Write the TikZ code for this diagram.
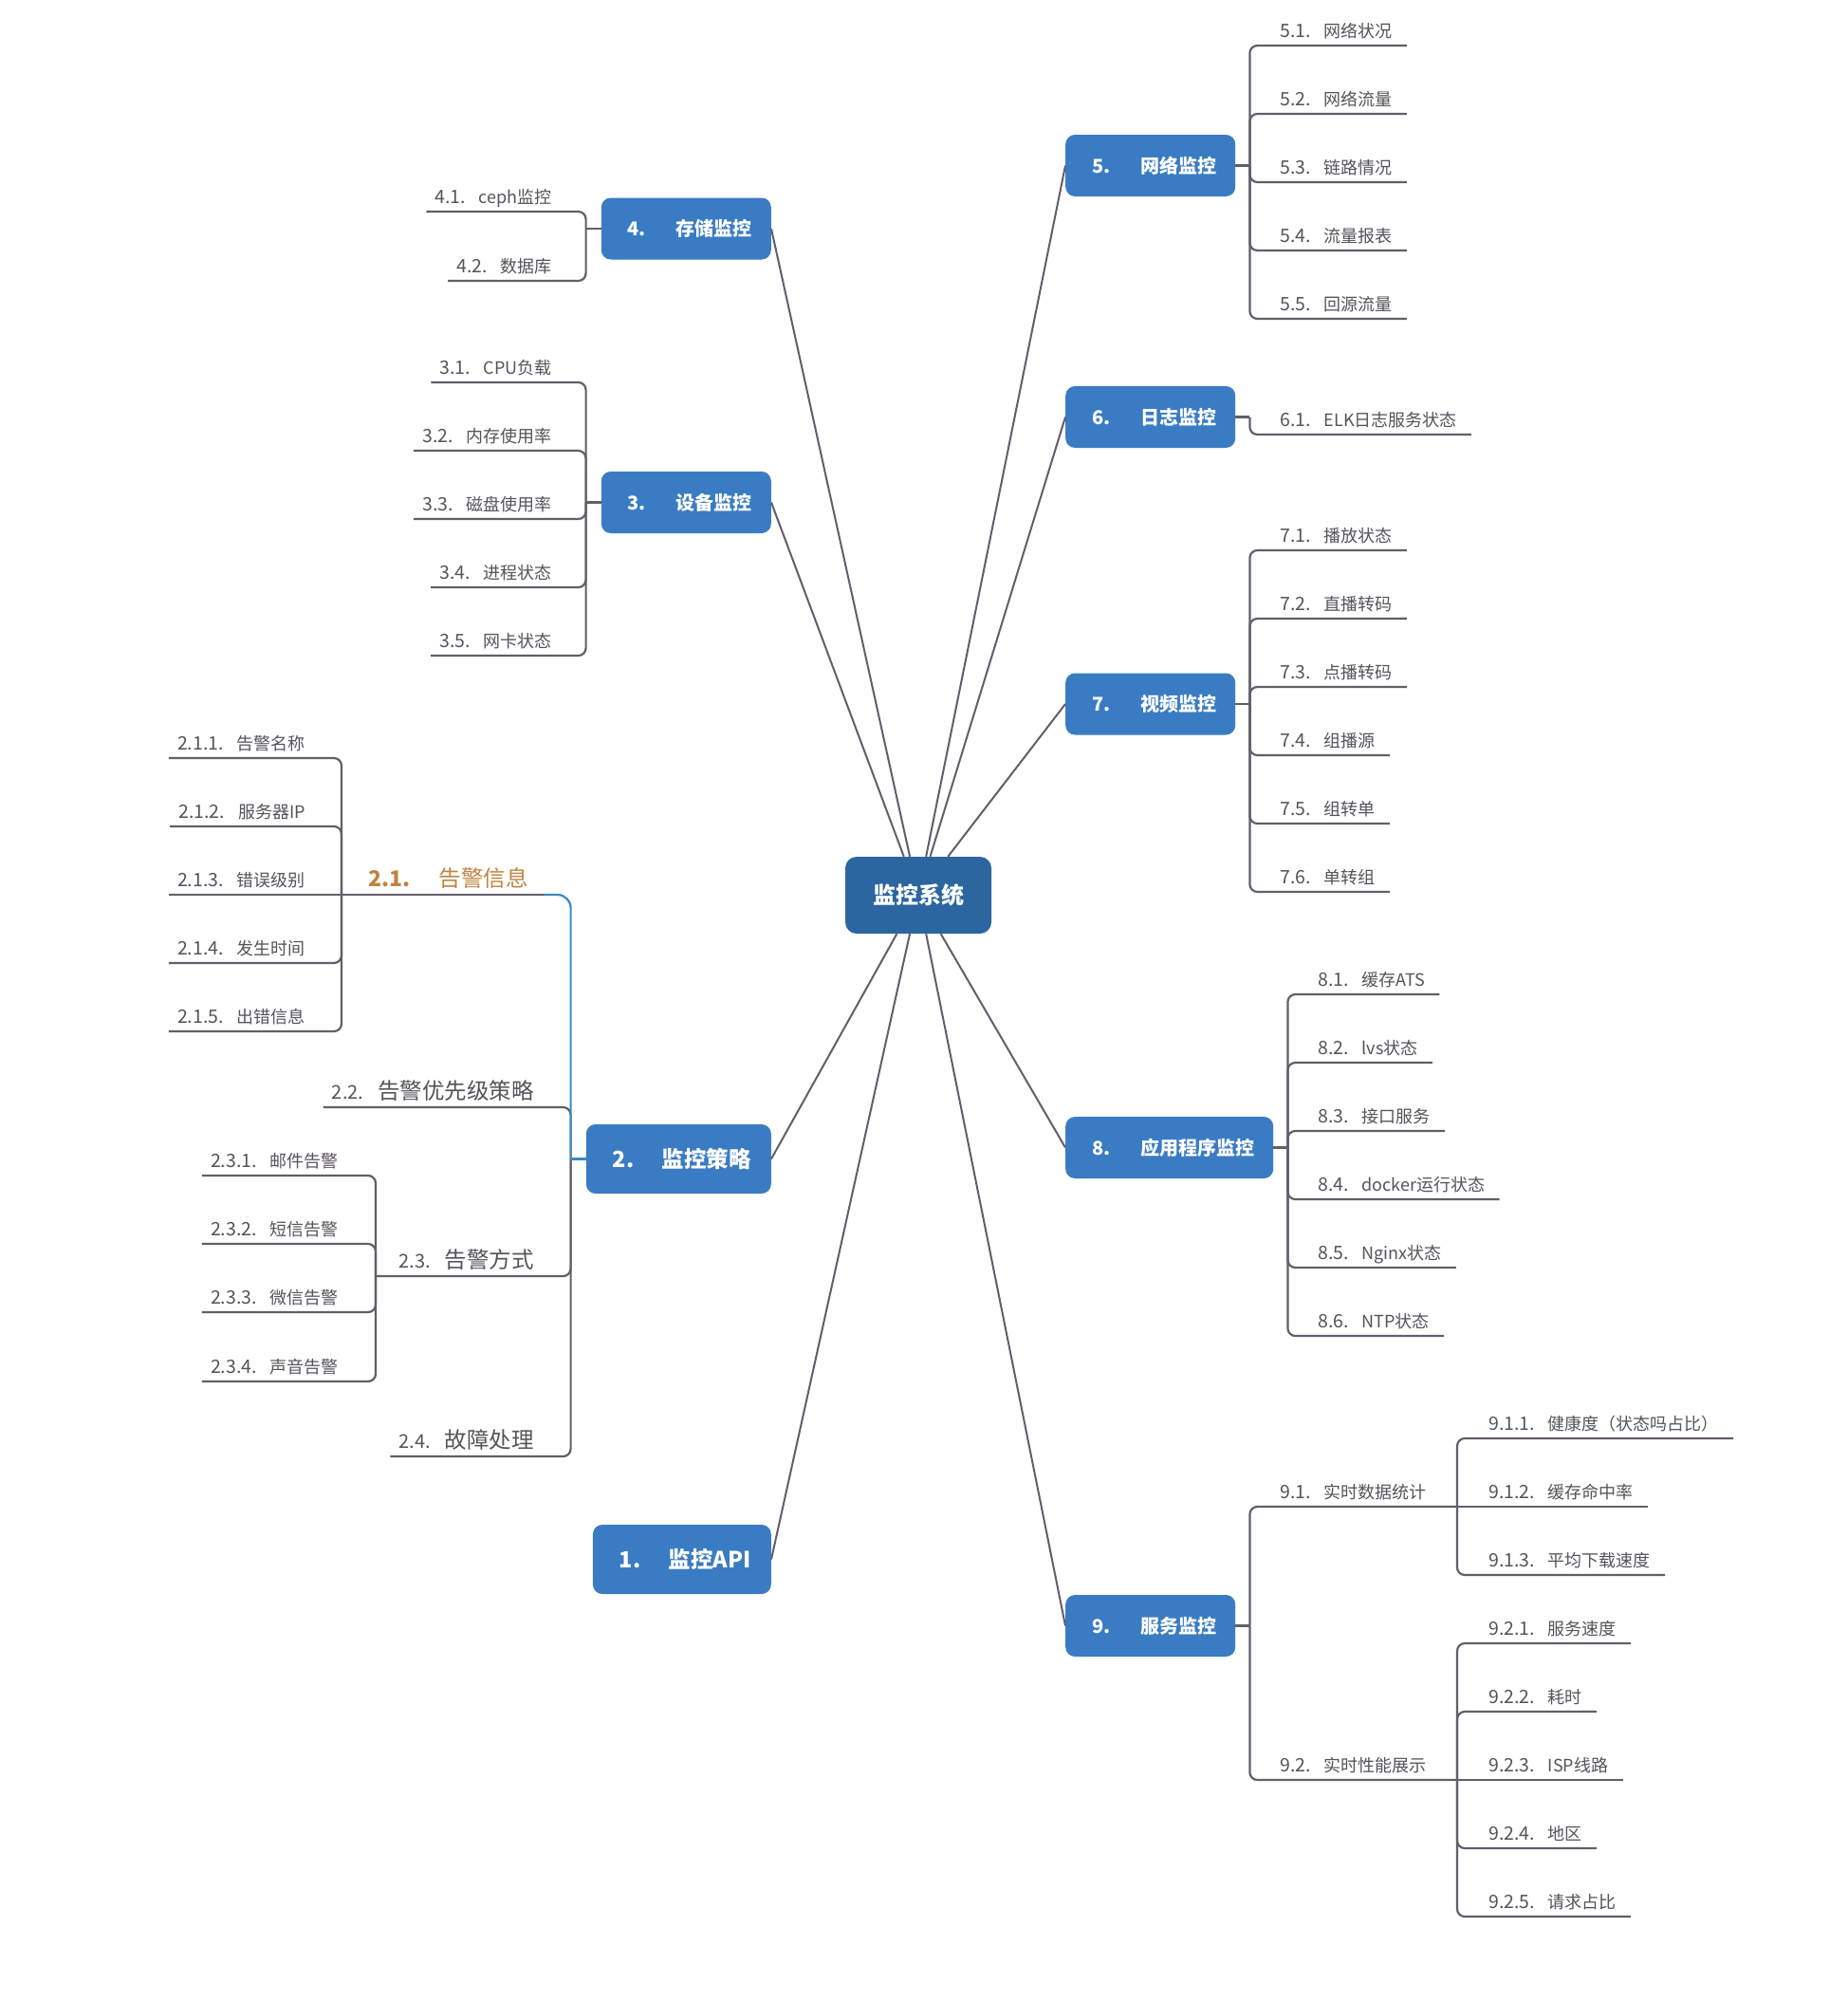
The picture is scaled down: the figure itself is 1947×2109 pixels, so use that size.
\documentclass[tikz,border=0pt]{standalone}
\usepackage{fontspec}
\setmainfont{Noto Sans CJK SC}
\usetikzlibrary{calc}
\definecolor{boxblue}{HTML}{3A7CC3}
\definecolor{cblue}{HTML}{2C66A1}
\definecolor{lineg}{HTML}{645D6B}
\definecolor{textg}{HTML}{57525C}
\definecolor{orng}{HTML}{C0843F}
\definecolor{linkblue}{HTML}{3B8AC2}
\newcommand\lf[2]{{\fontsize{19.5}{22}\selectfont #1}\hspace{14pt}#2}
\newcommand\lfB[2]{{\fontsize{20}{24}\selectfont #1}\hspace{15pt}{\fontsize{23.5}{28}\selectfont #2}}
\newcommand\mbA[2]{\hspace*{28pt}\makebox[51pt][l]{#1}#2\hspace*{20pt}}
\newcommand\mbB[2]{\hspace*{28pt}\makebox[52pt][l]{#1}#2\hspace*{21pt}}
\begin{document}
\begin{tikzpicture}[x=1pt,y=-1pt,
  conn/.style={draw=lineg,line width=2.2pt},
  br/.style={conn,rounded corners=8pt},
  mainbox/.style={fill=boxblue,text=white,rounded corners=10pt,inner xsep=0pt,inner ysep=0pt,minimum height=65pt,font=\fontsize{20}{24}\selectfont\bfseries},
  bigbox/.style={mainbox,minimum height=73pt,font=\fontsize{23.5}{28}\selectfont\bfseries},
  leafR/.style={anchor=south west,inner xsep=0pt,inner ysep=8pt,text depth=0pt,text=textg,font=\fontsize{18}{22}\selectfont},
  leafL/.style={leafR,anchor=south east},
  centerbox/.style={fill=cblue,text=white,rounded corners=12pt,minimum width=154pt,minimum height=81pt,inner sep=0pt,font=\fontsize{24}{28}\selectfont\bfseries}
]
\useasboundingbox (0,0) rectangle (1947,2109);
\fill[white] (0,0) rectangle (1947,2109);

% ---------- main nodes ----------
\node[centerbox] (c) at (968,943.5) {监控系统};
\node[mainbox,anchor=east] (n4) at (813,241) {\mbA{4.}{存储监控}};
\node[mainbox,anchor=east] (n3) at (813,529.5) {\mbA{3.}{设备监控}};
\node[bigbox,anchor=east] (n2) at (813,1221.5) {\mbB{2.}{监控策略}};
\node[bigbox,anchor=east] (n1) at (813,1643.5) {\mbB{1.}{监控API}};
\node[mainbox,anchor=west] (n5) at (1123,174.5) {\mbA{5.}{网络监控}};
\node[mainbox,anchor=west] (n6) at (1123,439.5) {\mbA{6.}{日志监控}};
\node[mainbox,anchor=west] (n7) at (1123,742) {\mbA{7.}{视频监控}};
\node[mainbox,anchor=west] (n8) at (1123,1209.5) {\mbA{8.}{应用程序监控}};
\node[mainbox,anchor=west] (n9) at (1123,1713.5) {\mbA{9.}{服务监控}};

% ---------- center connectors ----------
\foreach \n/\a in {n4/east,n3/east,n2/east,n1/east,n5/west,n6/west,n7/west,n8/west,n9/west}
  \draw[draw=lineg,line width=2pt] (c) -- (\n.\a);

% ---------- trunks ----------
\path (n5.east) ++(15,0) coordinate (j5);
\path (n6.east) ++(15,0) coordinate (j6);
\path (n7.east) ++(15,0) coordinate (j7);
\path (n8.east) ++(15,0) coordinate (j8);
\path (n9.east) ++(15,0) coordinate (j9);
\path (n4.west) ++(-16,0) coordinate (j4);
\path (n3.west) ++(-16,0) coordinate (j3);
\path (n2.west) ++(-16,0) coordinate (j2);
\foreach \n/\j in {n5/j5,n6/j6,n7/j7,n8/j8,n9/j9}
  \draw[conn] (\n.east) -- (\j);
\foreach \n/\j in {n4/j4,n3/j3}
  \draw[conn] (\n.west) -- (\j);

% ---------- branch 5 ----------
\node[leafR] (l51) at (1349,48) {\lf{5.1.}{网络状况}};
\node[leafR] (l52) at (1349,120) {\lf{5.2.}{网络流量}};
\node[leafR] (l53) at (1349,192) {\lf{5.3.}{链路情况}};
\node[leafR] (l54) at (1349,264) {\lf{5.4.}{流量报表}};
\node[leafR] (l55) at (1349,336) {\lf{5.5.}{回源流量}};
\foreach \l in {l51,l52,l53,l54,l55}
  \draw[br] (j5) |- ([xshift=15pt]\l.south east);

% ---------- branch 6 ----------
\node[leafR] (l61) at (1349,458) {\lf{6.1.}{ELK日志服务状态}};
\draw[br] (j6) |- ([xshift=15pt]l61.south east);

% ---------- branch 7 ----------
\node[leafR] (l71) at (1349,580) {\lf{7.1.}{播放状态}};
\node[leafR] (l72) at (1349,652) {\lf{7.2.}{直播转码}};
\node[leafR] (l73) at (1349,724) {\lf{7.3.}{点播转码}};
\node[leafR] (l74) at (1349,796) {\lf{7.4.}{组播源}};
\node[leafR] (l75) at (1349,868) {\lf{7.5.}{组转单}};
\node[leafR] (l76) at (1349,940) {\lf{7.6.}{单转组}};
\foreach \l in {l71,l72,l73,l74,l75,l76}
  \draw[br] (j7) |- ([xshift=15pt]\l.south east);

% ---------- branch 8 ----------
\node[leafR] (l81) at (1389,1048) {\lf{8.1.}{缓存ATS}};
\node[leafR] (l82) at (1389,1120) {\lf{8.2.}{lvs状态}};
\node[leafR] (l83) at (1389,1192) {\lf{8.3.}{接口服务}};
\node[leafR] (l84) at (1389,1264) {\lf{8.4.}{docker运行状态}};
\node[leafR] (l85) at (1389,1336) {\lf{8.5.}{Nginx状态}};
\node[leafR] (l86) at (1389,1408) {\lf{8.6.}{NTP状态}};
\foreach \l in {l81,l82,l83,l84,l85,l86}
  \draw[br] (j8) |- ([xshift=15pt]\l.south east);

% ---------- branch 9 ----------
\node[leafR] (l91) at (1349,1588) {\lf{9.1.}{实时数据统计}};
\node[leafR] (l92) at (1349,1876) {\lf{9.2.}{实时性能展示}};
\coordinate (j91) at (1536,1588);
\coordinate (j92) at (1536,1876);
\draw[br] (j9) |- (j91);
\draw[br] (j9) |- (j92);
\node[leafR] (l911) at (1569,1516) {\lf{9.1.1.}{健康度（状态吗占比）}};
\node[leafR] (l912) at (1569,1588) {\lf{9.1.2.}{缓存命中率}};
\node[leafR] (l913) at (1569,1660) {\lf{9.1.3.}{平均下载速度}};
\draw[br] (j91) |- ([xshift=15pt]l911.south east);
\draw[conn] (j91) -- ([xshift=15pt]l912.south east);
\draw[br] (j91) |- ([xshift=15pt]l913.south east);
\node[leafR] (l921) at (1569,1732) {\lf{9.2.1.}{服务速度}};
\node[leafR] (l922) at (1569,1804) {\lf{9.2.2.}{耗时}};
\node[leafR] (l923) at (1569,1876) {\lf{9.2.3.}{ISP线路}};
\node[leafR] (l924) at (1569,1948) {\lf{9.2.4.}{地区}};
\node[leafR] (l925) at (1569,2020) {\lf{9.2.5.}{请求占比}};
\foreach \l in {l921,l922,l924,l925}
  \draw[br] (j92) |- ([xshift=15pt]\l.south east);
\draw[conn] (j92) -- ([xshift=15pt]l923.south east);

% ---------- branch 4 ----------
\node[leafL] (l41) at (582,223) {\lf{4.1.}{ceph监控}};
\node[leafL] (l42) at (582,296) {\lf{4.2.}{数据库}};
\foreach \l in {l41,l42}
  \draw[br] (j4) |- ([xshift=-9pt]\l.south west);

% ---------- branch 3 ----------
\node[leafL] (l31) at (582,403) {\lf{3.1.}{CPU负载}};
\node[leafL] (l32) at (582,475) {\lf{3.2.}{内存使用率}};
\node[leafL] (l33) at (582,547) {\lf{3.3.}{磁盘使用率}};
\node[leafL] (l34) at (582,619) {\lf{3.4.}{进程状态}};
\node[leafL] (l35) at (582,691) {\lf{3.5.}{网卡状态}};
\foreach \l in {l31,l32,l33,l34,l35}
  \draw[br] (j3) |- ([xshift=-9pt]\l.south west);

% ---------- branch 2 ----------
\node[leafL,text=orng] (l21) at (557,943) {{\fontsize{23}{28}\selectfont\bfseries 2.1.}\hspace{30pt}{\fontsize{23.5}{28}\selectfont 告警信息}};
\node[leafL] (l22) at (563,1167) {\lfB{2.2.}{告警优先级策略}};
\node[leafL] (l23) at (563,1345) {\lfB{2.3.}{告警方式}};
\node[leafL] (l24) at (563,1535) {\lfB{2.4.}{故障处理}};
\coordinate (j21) at (360,943);
\coordinate (j23) at (396,1345);
\draw[br] (j2) |- ([xshift=-9pt]l22.south west);
\draw[br] (j2) |- (j23);
\draw[br] (j2) |- ([xshift=-9pt]l24.south west);
\draw[conn] (j21) -- ([xshift=17pt]l21.south east);
\draw[draw=linkblue,line width=2.2pt] (n2.west) -- (j2);
\draw[draw=linkblue,line width=2.2pt,rounded corners=14pt] (j2) |- ([xshift=17pt]l21.south east);

\node[leafL] (l211) at (322,799) {\lf{2.1.1.}{告警名称}};
\node[leafL] (l212) at (322,871) {\lf{2.1.2.}{服务器IP}};
\node[leafL] (l213) at (322,943) {\lf{2.1.3.}{错误级别}};
\node[leafL] (l214) at (322,1015) {\lf{2.1.4.}{发生时间}};
\node[leafL] (l215) at (322,1087) {\lf{2.1.5.}{出错信息}};
\foreach \l in {l211,l212,l214,l215}
  \draw[br] (j21) |- ([xshift=-9pt]\l.south west);
\draw[conn] (j21) -- ([xshift=-9pt]l213.south west);

\node[leafL] (l231) at (357,1239) {\lf{2.3.1.}{邮件告警}};
\node[leafL] (l232) at (357,1311) {\lf{2.3.2.}{短信告警}};
\node[leafL] (l233) at (357,1383) {\lf{2.3.3.}{微信告警}};
\node[leafL] (l234) at (357,1456) {\lf{2.3.4.}{声音告警}};
\foreach \l in {l231,l232,l233,l234}
  \draw[br] (j23) |- ([xshift=-9pt]\l.south west);
\end{tikzpicture}
\end{document}
